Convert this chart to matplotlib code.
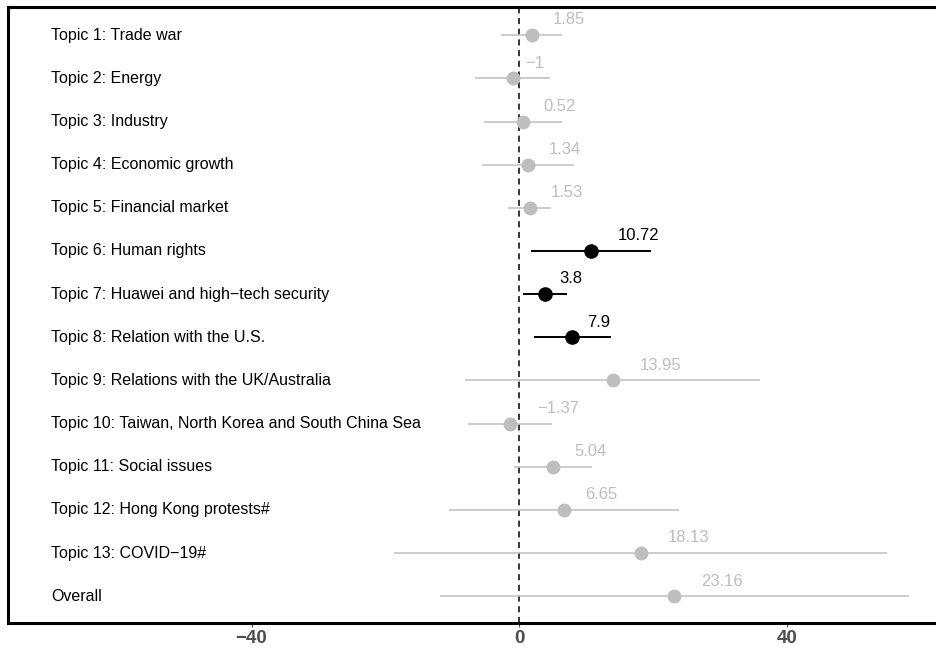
import numpy as np
import matplotlib.pyplot as plt

plt.rcParams['font.family'] = ['Liberation Sans', 'DejaVu Sans']

topics = [
    'Topic 1: Trade war',
    'Topic 2: Energy',
    'Topic 3: Industry',
    'Topic 4: Economic growth',
    'Topic 5: Financial market',
    'Topic 6: Human rights',
    'Topic 7: Huawei and high\u2212tech security',
    'Topic 8: Relation with the U.S.',
    'Topic 9: Relations with the UK/Australia',
    'Topic 10: Taiwan, North Korea and South China Sea',
    'Topic 11: Social issues',
    'Topic 12: Hong Kong protests#',
    'Topic 13: COVID\u221219#',
    'Overall',
]
estimates = [1.85, -1, 0.52, 1.34, 1.53, 10.72, 3.8, 7.9, 13.95, -1.37, 5.04, 6.65, 18.13, 23.16]
ci_low = [-2.7, -6.6, -5.3, -5.5, -1.65, 1.75, 0.55, 2.2, -8.1, -7.6, -0.85, -10.5, -18.7, -11.8]
ci_high = [6.35, 4.6, 6.35, 8.1, 4.75, 19.7, 7.1, 13.7, 36.0, 4.85, 10.9, 23.9, 55.0, 58.2]
significant = [False, False, False, False, False, True, True, True, False, False, False, False, False, False]

GREY = '#bebebe'

fig = plt.figure(figsize=(9.37, 6.49), dpi=100)
ax = fig.add_axes([0.0085, 0.040, 1.0, 0.949])

ax.axvline(0, color='black', linestyle=(0, (4, 3)), linewidth=1.1, zorder=1)

rows = np.arange(len(topics))
for y, est, lo, hi, sig in zip(rows, estimates, ci_low, ci_high, significant):
    col = 'black' if sig else GREY
    lw = 1.4 if sig else 1.1
    ax.plot([lo, hi], [y, y], color=col, linewidth=lw, solid_capstyle='butt', zorder=2)
    ax.plot(est, y, 'o', color=col, markersize=9.5 if sig else 9.0, zorder=3)

ax.set_xlim(-76.4, 63.6)
ax.set_ylim(13.62, -0.65)

# topic names inside the panel on the left
for y, name in zip(rows, topics):
    ax.text(-70.0, y, name, fontsize=11.5, va='center', ha='left', color='black')

# value labels: shifted right by a fraction of their own width (like hjust < 0)
fig.canvas.draw()
renderer = fig.canvas.get_renderer()
for y, est, sig in zip(rows, estimates, significant):
    col = 'black' if sig else GREY
    s = '\u2212' + f'{abs(est):g}' if est < 0 else f'{est:g}'
    t = ax.annotate(s, (est, y), xytext=(0, 11), textcoords='offset points',
                    fontsize=12, color=col, ha='left', va='center')
    w = t.get_window_extent(renderer).width * 72 / fig.dpi
    t.set_position((0.65 * w, 11))

ax.set_yticks([])
ax.set_xticks([-40, 0, 40])
ax.set_xticklabels(['\u221240', '0', '40'], fontsize=13.5, fontweight='bold', color='#4d4d4d')
ax.tick_params(axis='x', length=3, width=0.8, color='#4d4d4d', pad=2)

for side in ['left', 'top', 'bottom']:
    ax.spines[side].set_linewidth(2.2)
    ax.spines[side].set_color('black')
ax.spines['right'].set_visible(False)

fig.savefig('out.png', dpi=100)
